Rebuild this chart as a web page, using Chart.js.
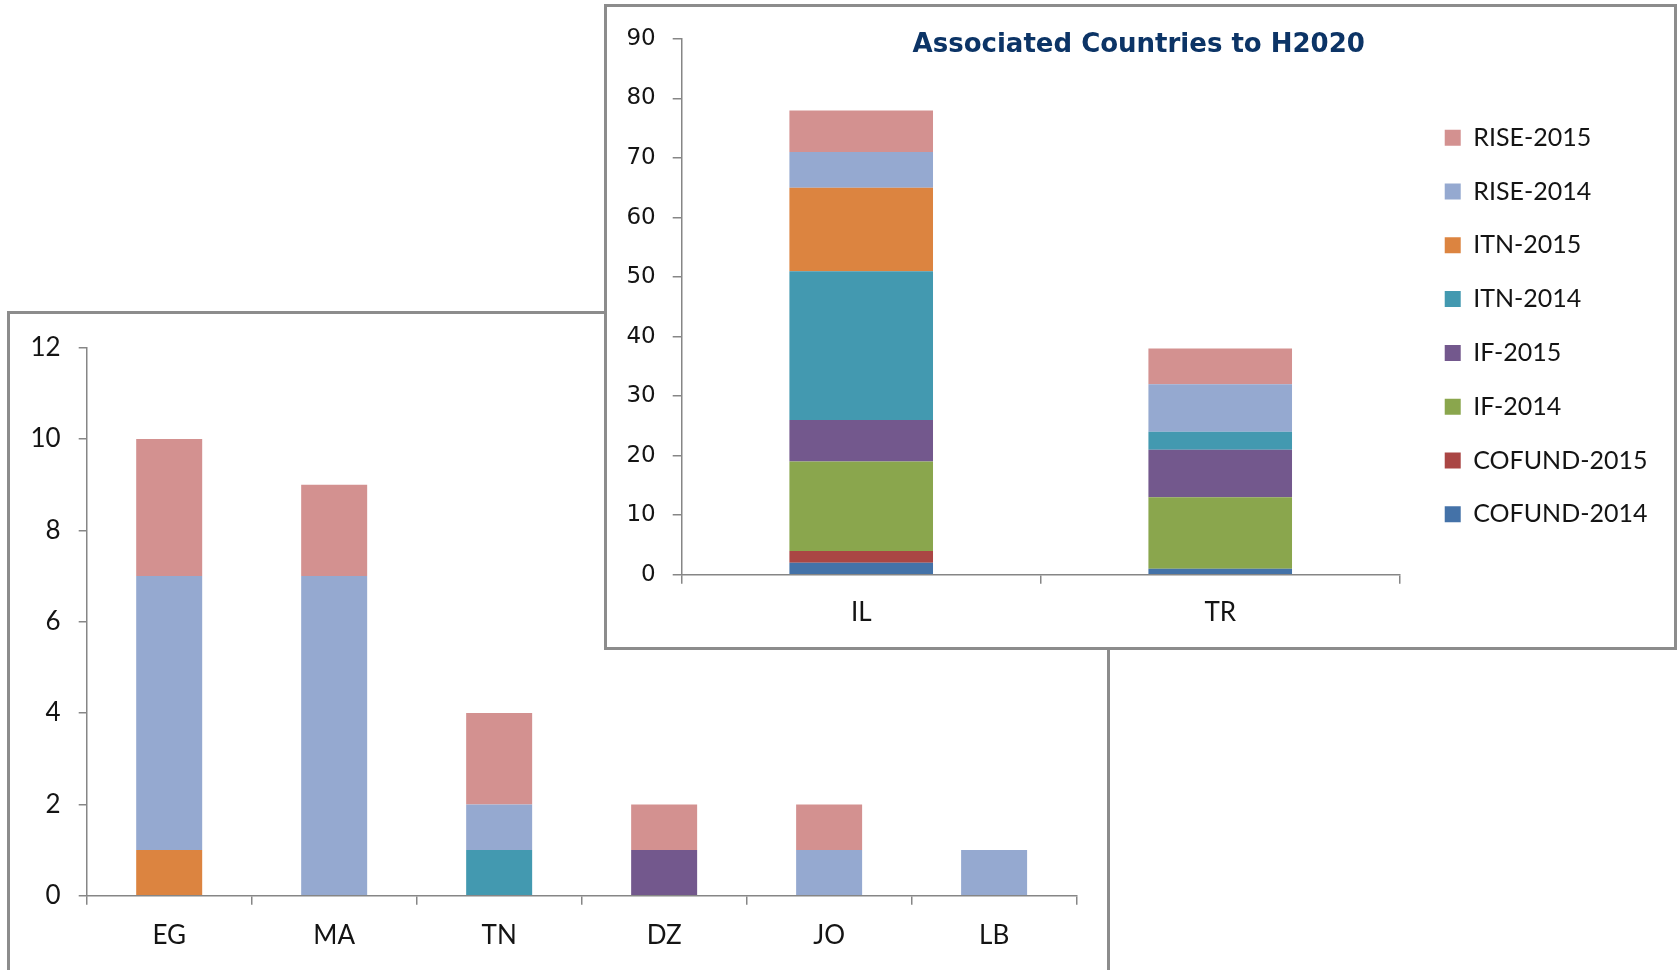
<!DOCTYPE html>
<html>
<head>
<meta charset="utf-8">
<title>Associated Countries to H2020</title>
<script src="https://cdn.jsdelivr.net/npm/chart.js@4.4.1/dist/chart.umd.min.js"></script>
<style>
  html, body { margin: 0; padding: 0; background: #fff; overflow: hidden; }
  body { width: 1678px; height: 970px; position: relative; }
  .frame { position: absolute; box-sizing: border-box; border: 3px solid #8c8c8c; background: #fff; }
  #back { left: 7px; top: 311px; width: 1103px; height: 700px; }
  #front { left: 604px; top: 4px; width: 1073px; height: 646px; }
  canvas { display: block; }
</style>
</head>
<body>
<div class="frame" id="back"><canvas id="backChart" width="1097" height="656"></canvas></div>
<div class="frame" id="front"><canvas id="frontChart" width="1067" height="640"></canvas></div>
<script>
// series, bottom of the stack first (legend is shown reversed)
const seriesLabels = ['COFUND-2014', 'COFUND-2015', 'IF-2014', 'IF-2015', 'ITN-2014', 'ITN-2015', 'RISE-2014', 'RISE-2015'];
const seriesColors = ['#4472a8', '#aa4644', '#8aa64d', '#73588d', '#4399b0', '#dc8440', '#95a9d0', '#d39190'];

// back chart: partner countries
const medCountries = ['EG', 'MA', 'TN', 'DZ', 'JO', 'LB'];
const medCofund2014 = [0, 0, 0, 0, 0, 0];
const medCofund2015 = [0, 0, 0, 0, 0, 0];
const medIf2014 = [0, 0, 0, 0, 0, 0];
const medIf2015 = [0, 0, 0, 1, 0, 0];
const medItn2014 = [0, 0, 1, 0, 0, 0];
const medItn2015 = [1, 0, 0, 0, 0, 0];
const medRise2014 = [6, 7, 1, 0, 1, 1];
const medRise2015 = [3, 2, 2, 1, 1, 0];
const medAxisMax = 12;
const medAxisStep = 2;

// front chart: associated countries
const assocTitle = 'Associated Countries to H2020';
const assocCountries = ['IL', 'TR'];
const assocCofund2014 = [2, 1];
const assocCofund2015 = [2, 0];
const assocIf2014 = [15, 12];
const assocIf2015 = [7, 8];
const assocItn2014 = [25, 3];
const assocItn2015 = [14, 0];
const assocRise2014 = [6, 8];
const assocRise2015 = [7, 6];
const assocAxisMax = 90;
const assocAxisStep = 10;

const AXIS_GREY = '#868686';
const TEXT = '#141414';

function makeDatasets(rows) {
  return rows.map((data, i) => ({
    label: seriesLabels[i],
    data,
    backgroundColor: seriesColors[i],
    borderWidth: 0,
    categoryPercentage: 1,
    barPercentage: 0.4,
  }));
}

function catAxis(fontSize, pad, height) {
  return {
    stacked: true,
    offset: true,
    grid: { offset: true, drawOnChartArea: false, drawTicks: true, tickLength: 9, color: AXIS_GREY, lineWidth: 1.5 },
    border: { display: true, color: AXIS_GREY, width: 1.5 },
    ticks: { color: TEXT, padding: pad, font: { family: 'Lato', size: fontSize } },
    afterFit: (s) => { s.height = height; },
  };
}

function valAxis(max, step, font, pad, tickLen, width) {
  return {
    stacked: true,
    min: 0,
    max,
    grid: { drawOnChartArea: false, drawTicks: true, tickLength: tickLen, color: AXIS_GREY, lineWidth: 1.5 },
    border: { display: true, color: AXIS_GREY, width: 1.5 },
    ticks: { stepSize: step, color: TEXT, padding: pad, font },
    afterFit: (s) => { s.width = width; },
  };
}

function draw() {
  new Chart(document.getElementById('backChart'), {
    type: 'bar',
    data: {
      labels: medCountries,
      datasets: makeDatasets([medCofund2014, medCofund2015, medIf2014, medIf2015, medItn2014, medItn2015, medRise2014, medRise2015]),
    },
    options: {
      responsive: false,
      animation: false,
      layout: { padding: { left: 0, right: 30.4, top: 32.7, bottom: 0 } },
      plugins: { legend: { display: false }, title: { display: false }, tooltip: { enabled: false } },
      scales: {
        x: catAxis(26, 15.6, 74.2),
        y: valAxis(medAxisMax, medAxisStep, { family: 'Lato', size: 26 }, 18, 8, 76.7),
      },
    },
  });

  new Chart(document.getElementById('frontChart'), {
    type: 'bar',
    data: {
      labels: assocCountries,
      datasets: makeDatasets([assocCofund2014, assocCofund2015, assocIf2014, assocIf2015, assocItn2014, assocItn2015, assocRise2014, assocRise2015]),
    },
    options: {
      responsive: false,
      animation: false,
      layout: { padding: { left: 13, right: 16.5, top: 0, bottom: 2 } },
      plugins: {
        tooltip: { enabled: false },
        title: {
          display: true,
          text: assocTitle,
          color: '#0c3466',
          font: { family: 'DejaVu Sans', size: 26, weight: 'bold', lineHeight: 1.2 },
          padding: { top: 22.2, bottom: -21.4 },
        },
        legend: {
          position: 'right',
          align: 'center',
          reverse: true,
          maxWidth: 320,
          labels: { boxWidth: 16, boxHeight: 16, padding: 28.8, color: TEXT, font: { family: 'Lato', size: 25 } },
        },
      },
      scales: {
        x: catAxis(26, 13.7, 70.3),
        y: valAxis(assocAxisMax, assocAxisStep, { family: 'DejaVu Sans', size: 23 }, 17, 9, 61.7),
        // empty spacer between plot and legend
        gap: {
          type: 'linear',
          position: 'right',
          display: true,
          grid: { display: false },
          border: { display: false },
          ticks: { display: false },
          afterFit: (s) => { s.width = 16.2; },
        },
      },
    },
  });
}

Promise.all([
  document.fonts.load('25px Lato'),
  document.fonts.load('23px "DejaVu Sans"'),
  document.fonts.load('bold 26px "DejaVu Sans"'),
]).then(draw, draw);
</script>
</body>
</html>
